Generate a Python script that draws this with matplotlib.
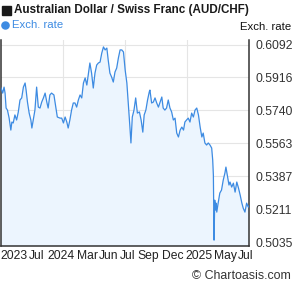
import matplotlib
matplotlib.use("Agg")
import matplotlib.pyplot as plt
from matplotlib.patches import Rectangle, Circle

# ---- data ----
days = [0, 5, 9, 12, 15, 19, 24, 29, 32, 36, 41, 46, 51, 56, 61, 66, 71, 74, 78, 83,
        88, 91, 95, 100, 105, 110, 115, 120, 125, 130, 135, 139, 144, 149, 156, 162, 166,
        174, 179, 184, 189, 194, 198, 203, 208, 213, 218, 223, 228, 233, 238, 243, 248,
        253, 257, 262, 267, 272, 277, 282, 287, 292, 297, 302, 307, 312, 316, 321, 326,
        331, 336, 341, 346, 351, 356, 361, 366, 371, 375, 380, 383, 387, 392, 397, 402,
        408, 413, 418, 422, 427, 432, 437, 439, 444, 449, 454, 459, 464, 469, 474, 478,
        483, 488, 493, 498, 503, 508, 513, 518, 523, 528, 533, 538, 542, 547, 552, 557,
        562, 567, 572, 577, 582, 587, 592, 596, 601, 606, 611, 616, 621, 624, 626, 628,
        630, 632, 634, 636, 640, 645, 650, 655, 660, 663, 668, 672, 675, 680, 685, 690,
        695, 700, 705, 710, 714, 719, 724, 729, 731]
rates = [0.5859, 0.5832, 0.5864, 0.5832, 0.5752, 0.5741, 0.5698, 0.5634, 0.5677, 0.5672,
         0.5715, 0.5688, 0.5731, 0.5795, 0.5806, 0.5864, 0.5886, 0.5848, 0.5784, 0.5725,
         0.5688, 0.5645, 0.5688, 0.5741, 0.5864, 0.5757, 0.5752, 0.5784, 0.5806, 0.5832,
         0.5784, 0.5752, 0.5822, 0.5832, 0.5822, 0.5752, 0.5704, 0.5698, 0.5698, 0.5672,
         0.5704, 0.5677, 0.5645, 0.5688, 0.5741, 0.5779, 0.5779, 0.5757, 0.5795, 0.5822,
         0.5806, 0.5886, 0.5913, 0.5875, 0.5929, 0.5993, 0.5939, 0.5859, 0.5939, 0.5982,
         0.5993, 0.5998, 0.6046, 0.6079, 0.6063, 0.6073, 0.6009, 0.5939, 0.5918, 0.5891,
         0.5945, 0.5966, 0.6020, 0.6063, 0.6063, 0.6052, 0.5955, 0.5886, 0.5784, 0.5650,
         0.5565, 0.5704, 0.5741, 0.5806, 0.5725, 0.5731, 0.5688, 0.5623, 0.5715, 0.5741,
         0.5795, 0.5838, 0.5848, 0.5779, 0.5784, 0.5806, 0.5779, 0.5757, 0.5784, 0.5811,
         0.5752, 0.5741, 0.5752, 0.5795, 0.5752, 0.5731, 0.5688, 0.5698, 0.5618, 0.5597,
         0.5634, 0.5650, 0.5634, 0.5677, 0.5688, 0.5698, 0.5677, 0.5725, 0.5704, 0.5741,
         0.5752, 0.5715, 0.5650, 0.5597, 0.5618, 0.5565, 0.5554, 0.5565, 0.5554, 0.5538,
         0.5474, 0.5393, 0.5045, 0.5259, 0.5206, 0.5243, 0.5195, 0.5243, 0.5297, 0.5313,
         0.5366, 0.5404, 0.5436, 0.5383, 0.5340, 0.5356, 0.5329, 0.5350, 0.5302, 0.5356,
         0.5324, 0.5286, 0.5243, 0.5216, 0.5195, 0.5243, 0.5222, 0.5227]

y_ticks = [0.5035, 0.5211, 0.5387, 0.5563, 0.5740, 0.5916, 0.6092]
x_labels = ["2023", "Jul", "2024", "Mar", "Jun", "Jul", "Sep", "Dec", "2025", "May", "Jul"]
x_label_days = [37, 105, 177, 254, 317, 373, 433, 506, 585, 662, 721]
x_grid_days = [183, 366, 548]

title = "Australian Dollar / Swiss Franc (AUD/CHF)"
series_name = "Exch. rate"
axis_title = "Exch. rate"
credit = "\u00a9 Chartoasis.com"

# ---- style ----
W, H = 295, 288
DPI = 100
LINE = "#3d8be2"
FILL = "#ecf5fe"
GRID = "#e5e5e5"
AXIS = "#333333"
plt.rcParams["font.family"] = ["Liberation Sans", "DejaVu Sans"]

fig = plt.figure(figsize=(W / DPI, H / DPI), dpi=DPI)
ax = fig.add_axes([1 / W, 1 - 245.5 / H, 248 / W, (245.5 - 40) / H])

ax.fill_between(days, rates, 0.4, color=FILL, lw=0, zorder=1)
ax.plot(days, rates, color=LINE, lw=0.9, zorder=3, solid_joinstyle="round")

ax.set_xlim(0, 731)
ax.set_ylim(0.50163, 0.61161)

for yv in y_ticks:
    ax.axhline(yv, color=GRID, lw=0.8, zorder=0.5)
for xv in x_grid_days:
    ax.axvline(xv, color=GRID, lw=0.8, zorder=0.5)

ax.yaxis.tick_right()
ax.set_yticks(y_ticks)
ax.set_yticklabels([f"{v:.4f}" for v in y_ticks])
ax.tick_params(axis="y", length=0, pad=4.5, labelsize=8.7, labelcolor="#333333")

ax.set_xticks(x_label_days)
ax.set_xticklabels(x_labels)
ax.tick_params(axis="x", length=0, pad=3, labelsize=8.7, labelcolor="#222222")

ax.spines["top"].set_visible(False)
for s in ("left", "right", "bottom"):
    ax.spines[s].set_color(AXIS)
    ax.spines[s].set_linewidth(1.1)
ax.set_facecolor("white")

# title with square marker
fig.patches.append(Rectangle((2 / W, 1 - 15 / H), 9 / W, 9 / H,
                             transform=fig.transFigure, color="#1a1a1a"))
fig.text(14 / W, 1 - 10.5 / H, title, fontsize=8.4, fontweight="bold",
         color="#1a1a1a", va="center", ha="left")

# legend
fig.patches.append(Circle((5.5 / W, 1 - 25.5 / H), 3.6 / W,
                          transform=fig.transFigure, color=LINE))
fig.text(12 / W, 1 - 25.5 / H, series_name, fontsize=8.2, color=LINE,
         va="center", ha="left")

fig.text(291 / W, 1 - 27.5 / H, axis_title, fontsize=8.2, color="#111111",
         va="center", ha="right")

fig.text(291 / W, 1 - 276 / H, credit, fontsize=8.9, color="#333333",
         va="center", ha="right")

fig.savefig("out.png", dpi=DPI)
